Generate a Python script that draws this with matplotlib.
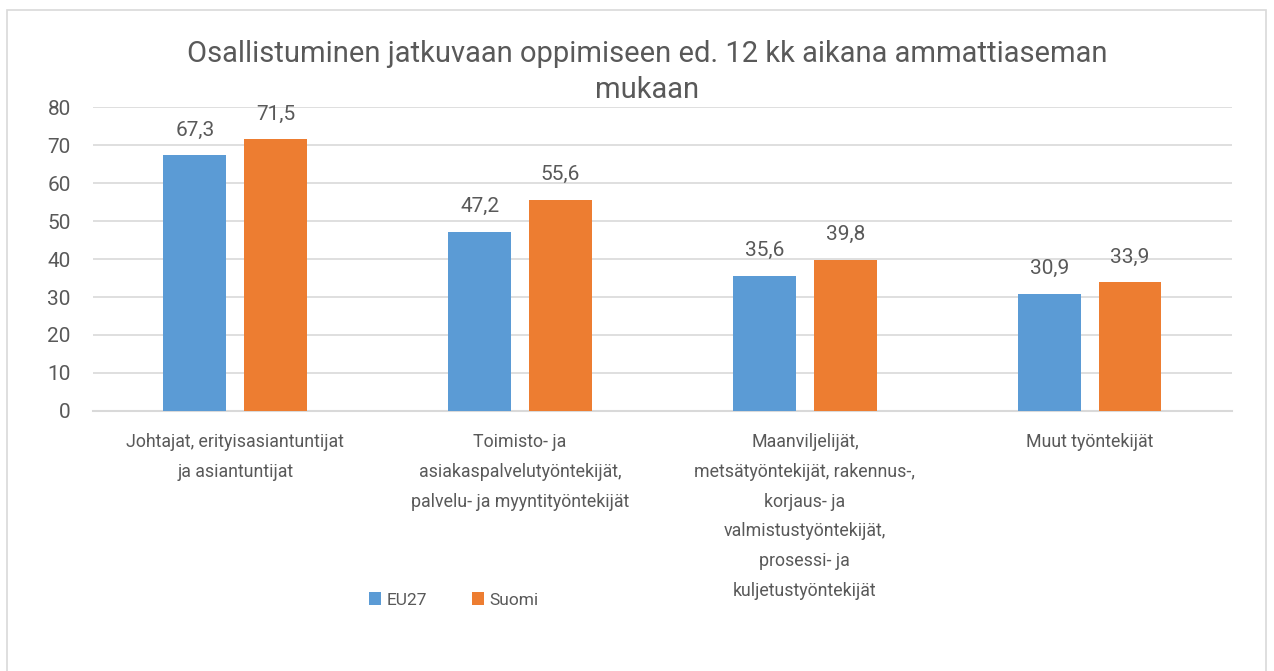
import matplotlib.pyplot as plt
import numpy as np
from matplotlib.patches import Rectangle

categories = [
    "Johtajat, erityisasiantuntijat\nja asiantuntijat",
    "Toimisto- ja\nasiakaspalvelutyöntekijät,\npalvelu- ja myyntityöntekijät",
    "Maanviljelijät,\nmetsätyöntekijät, rakennus-,\nkorjaus- ja\nvalmistustyöntekijät,\nprosessi- ja\nkuljetustyöntekijät",
    "Muut työntekijät",
]
eu27 = [67.3, 47.2, 35.6, 30.9]
suomi = [71.5, 55.6, 39.8, 33.9]
series_names = ["EU27", "Suomi"]
title = "Osallistuminen jatkuvaan oppimiseen ed. 12 kk aikana ammattiaseman\nmukaan"

blue = "#5B9BD5"
orange = "#ED7D31"
txt = "#595959"
grid = "#D9D9D9"

plt.rcParams['font.family'] = ['Roboto', 'DejaVu Sans']

fig = plt.figure(figsize=(12.74, 6.71), dpi=100)
fig.patches.append(Rectangle((7 / 1274, -0.05), 1259 / 1274, 1 - 10 / 671 + 0.05,
                             transform=fig.transFigure, fill=False,
                             edgecolor=grid, linewidth=1.2))

ax = fig.add_axes([0.073, 0.3875, 0.894, 0.453])

x = np.arange(len(categories))
w = 0.221
b1 = ax.bar(x - 0.142, eu27, w, color=blue, label=series_names[0], zorder=3)
b2 = ax.bar(x + 0.142, suomi, w, color=orange, label=series_names[1], zorder=3)

for bars, vals in [(b1, eu27), (b2, suomi)]:
    for rect, v in zip(bars, vals):
        ax.annotate(f"{v:.1f}".replace(".", ","),
                    (rect.get_x() + rect.get_width() / 2, v),
                    xytext=(0, 18), textcoords="offset points",
                    ha="center", va="center", fontsize=15, color=txt)

ax.set_xlim(-0.5, 3.5)
ax.set_ylim(0, 80)
ax.set_yticks(range(0, 81, 10))
ax.yaxis.grid(True, color=grid, linewidth=1.2, zorder=0)
ax.set_axisbelow(True)
for s in ["top", "right", "left"]:
    ax.spines[s].set_visible(False)
ax.spines["bottom"].set_color(grid)
ax.spines["bottom"].set_linewidth(1.5)
ax.tick_params(axis="y", length=0, pad=16, labelsize=15, labelcolor=txt)
ax.tick_params(axis="x", length=0, pad=16, labelcolor=txt)
ax.set_xticks(x)
ax.set_xticklabels(categories, fontsize=12.8, linespacing=1.84, va="top")

fig.text(647 / 1274, 1 - 72 / 671, title, ha="center", va="center",
         fontsize=21, color=txt, linespacing=1.35)

fig.legend(handles=[b1, b2], loc="center", bbox_to_anchor=(454 / 1274, 1 - 600 / 671),
           ncol=2, frameon=False, fontsize=12.5, labelcolor=txt,
           handlelength=0.7, handleheight=0.7, handletextpad=0.3, columnspacing=2.6)

fig.savefig("out.png", dpi=100)
